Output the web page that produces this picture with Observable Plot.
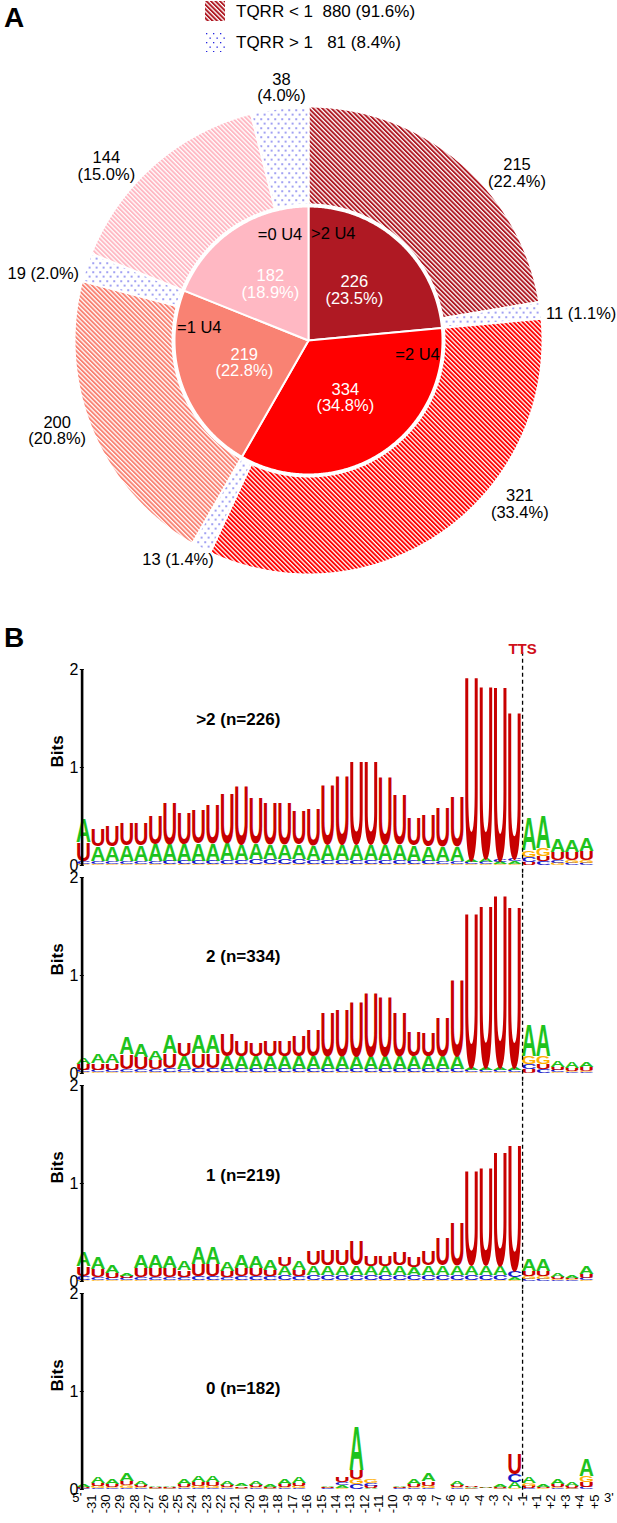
<!DOCTYPE html>
<html>
<head>
<meta charset="utf-8">
<script src="https://cdn.jsdelivr.net/npm/d3@7"></script>
<script src="https://cdn.jsdelivr.net/npm/@observablehq/plot@0.6"></script>
<style>
  html, body { margin: 0; padding: 0; background: #fff; }
  #root { position: relative; width: 617px; height: 1523px; overflow: hidden;
          font-family: "Liberation Sans", Arial, Helvetica, sans-serif; color: #000; }
  .abs { position: absolute; }
  .tag { font-weight: bold; font-size: 28px; line-height: 28px; }
  .leg { font-size: 17px; line-height: 20px; white-space: pre; }
</style>
</head>
<body>
<div id="root"></div>
<script>
// ================= DATA : panel A =================
const innerGroups = [">2 U4", "=2 U4", "=1 U4", "=0 U4"];
const innerCounts = [226, 334, 219, 182];
const tqrrLow  = [215, 321, 200, 144];   // TQRR < 1 within each group
const tqrrHigh = [11, 13, 19, 38];       // TQRR > 1 within each group
const legendLabels = ["TQRR < 1", "TQRR > 1"];

// ================= DATA : panel B =================
const positions = ["-31","-30","-29","-28","-27","-26","-25","-24","-23","-22","-21","-20","-19","-18","-17","-16",
                   "-15","-14","-13","-12","-11","-10","-9","-8","-7","-6","-5","-4","-3","-2","-1",
                   "+1","+2","+3","+4","+5"];
const endLabels = ["5'", "3'"];
const panelTitles = [">2 (n=226)", "2 (n=334)", "1 (n=219)", "0 (n=182)"];
const tssLabel = "TTS";
const tssPosition = "-1";
const bitTicks = [0, 1, 2];

// bits per nucleotide, panel ">2"
const A1 = [0.24,0.15,0.15,0.16,0.16,0.17,0.17,0.17,0.18,0.18,0.17,0.16,0.16,0.15,0.15,0.15,0.15,0.16,0.16,0.16,0.16,0.16,0.16,0.16,0.15,0.15,0.15,0.03,0.04,0.02,0.03,0.34,0.34,0.14,0.12,0.13];
const C1 = [0.03,0.03,0.03,0.03,0.03,0.03,0.035,0.035,0.035,0.035,0.04,0.045,0.05,0.05,0.05,0.05,0.045,0.04,0.04,0.04,0.04,0.04,0.04,0.035,0.035,0.03,0.03,0.02,0.02,0.02,0.03,0.05,0.04,0.03,0.02,0.02];
const G1 = [0.01,0.01,0.01,0.01,0.01,0.01,0.01,0.01,0.01,0.01,0.01,0.01,0.01,0.01,0.01,0.01,0.01,0.01,0.01,0.01,0.01,0.01,0.01,0.01,0.01,0.01,0.01,0.01,0.01,0.01,0.01,0.07,0.08,0.02,0.03,0.03];
const U1 = [0.19,0.18,0.22,0.23,0.23,0.30,0.43,0.33,0.35,0.40,0.52,0.61,0.47,0.43,0.43,0.35,0.38,0.62,0.72,0.87,0.87,0.71,0.52,0.28,0.32,0.40,0.52,1.92,1.80,1.82,1.53,0.03,0.05,0.08,0.08,0.09];

// panel "2"
const A2 = [0.07,0.09,0.09,0.17,0.14,0.10,0.19,0.13,0.19,0.19,0.13,0.13,0.13,0.13,0.13,0.13,0.13,0.13,0.13,0.13,0.13,0.13,0.13,0.13,0.13,0.13,0.13,0.03,0.03,0.03,0.03,0.33,0.33,0.07,0.06,0.05];
const C2 = [0.02,0.02,0.02,0.03,0.03,0.03,0.04,0.03,0.04,0.04,0.035,0.035,0.035,0.035,0.035,0.035,0.035,0.035,0.035,0.035,0.035,0.035,0.035,0.035,0.035,0.035,0.035,0.02,0.02,0.02,0.02,0.05,0.04,0.02,0.01,0.01];
const G2 = [0.01,0.01,0.01,0.01,0.01,0.01,0.01,0.01,0.01,0.01,0.01,0.01,0.01,0.01,0.01,0.01,0.01,0.01,0.01,0.01,0.01,0.01,0.01,0.01,0.01,0.01,0.01,0.01,0.01,0.01,0.01,0.08,0.08,0.01,0.01,0.01];
const U2 = [0.06,0.07,0.07,0.15,0.12,0.09,0.15,0.14,0.15,0.15,0.225,0.155,0.135,0.155,0.165,0.215,0.265,0.465,0.485,0.575,0.665,0.625,0.455,0.255,0.245,0.405,0.805,1.61,1.70,1.81,1.68,0.04,0.05,0.03,0.03,0.04];

// panel "1"
const A3 = [0.15,0.12,0.08,0.03,0.13,0.13,0.12,0.10,0.18,0.18,0.09,0.13,0.12,0.11,0.09,0.10,0.10,0.10,0.10,0.10,0.09,0.09,0.10,0.08,0.10,0.10,0.10,0.10,0.10,0.10,0.03,0.12,0.12,0.04,0.03,0.08];
const C3 = [0.04,0.03,0.02,0.02,0.03,0.03,0.03,0.03,0.04,0.04,0.03,0.04,0.04,0.04,0.05,0.04,0.05,0.05,0.05,0.05,0.05,0.05,0.05,0.05,0.05,0.05,0.05,0.05,0.05,0.05,0.07,0.02,0.02,0.01,0.01,0.02];
const G3 = [0.01,0.01,0.01,0.01,0.01,0.01,0.01,0.01,0.01,0.01,0.01,0.01,0.01,0.01,0.01,0.01,0.01,0.01,0.01,0.01,0.01,0.01,0.01,0.01,0.01,0.01,0.01,0.01,0.01,0.01,0.01,0.03,0.03,0.01,0.01,0.01];
const U3 = [0.10,0.08,0.05,0.02,0.09,0.09,0.09,0.07,0.12,0.12,0.06,0.08,0.08,0.06,0.10,0.06,0.15,0.16,0.16,0.26,0.11,0.11,0.14,0.11,0.15,0.28,0.44,0.99,1.01,1.19,1.31,0.05,0.05,0.02,0.01,0.04];

// panel "0"
const A4 = [0.025,0.06,0.05,0.085,0.045,0.015,0.015,0.055,0.07,0.07,0.04,0.03,0.045,0.025,0.05,0.06,0,0.012,0.025,0.46,0.01,0,0.01,0.05,0.08,0.004,0.04,0.012,0.007,0.025,0.06,0.06,0.02,0.05,0.035,0.17];
const C4 = [0.008,0.01,0.01,0.015,0.01,0.005,0.005,0.01,0.015,0.015,0.01,0.005,0.01,0.005,0.01,0.01,0,0.006,0.03,0.05,0.03,0,0.006,0.01,0.015,0.003,0.008,0.005,0.003,0.005,0.08,0.01,0.004,0.01,0.005,0.02];
const G4 = [0.005,0.02,0.015,0.03,0.015,0.01,0.01,0.015,0.02,0.02,0.01,0.01,0.01,0.008,0.015,0.02,0,0.006,0.015,0.05,0.04,0,0.006,0.015,0.02,0.002,0.012,0.008,0.004,0.008,0.01,0.03,0.006,0.015,0.01,0.06];
const U4 = [0.012,0.03,0.025,0.04,0.02,0.01,0.01,0.03,0.035,0.035,0.02,0.015,0.025,0.012,0.025,0.03,0,0.006,0.05,0.09,0.02,0,0.008,0.025,0.045,0.001,0.02,0.015,0.006,0.012,0.22,0.02,0.01,0.025,0.02,0.05];

// ================= STYLE / LAYOUT =================
const FONT = '"Liberation Sans", Arial, Helvetica, sans-serif';
const ns = "http://www.w3.org/2000/svg";
const innerColors = ["#AF1923", "#FF0000", "#F98273", "#FFB8C3"];
const dotColor = "#2222e0";
const letterColors = {A: "#1ec31e", C: "#1616c8", G: "#ffb000", U: "#c80000"};
const R_IN = 134, R_OUT = 234, R_GAP = 2;
// angular nudge (degrees) of each outer label from its slice's middle, as placed in the figure
const outerLabelNudge = [11, 1, -17, -4, 3, -2, -8, 1];

const root = document.getElementById("root");
function tag(txt, top) {
  const d = document.createElement("div");
  d.className = "abs tag"; d.style.left = "4px"; d.style.top = top + "px"; d.textContent = txt;
  root.appendChild(d);
}

// ================= PANEL A : nested pie =================
const total = d3.sum(innerCounts);
const deg = 360 / total;
const pct = c => d3.format(".1f")(c / total * 100);

let acc = 0;
const innerSlices = innerGroups.map((g, k) => {
  const a0 = acc * deg; acc += innerCounts[k];
  return {k, group: g, count: innerCounts[k], a0, a1: acc * deg, fill: innerColors[k]};
});
acc = 0;
const outerSlices = [];
innerGroups.forEach((g, k) => {
  [[tqrrLow[k], "url(#hatch" + k + ")"], [tqrrHigh[k], "url(#dots)"]].forEach(([c, fill]) => {
    const a0 = acc * deg; acc += c;
    outerSlices.push({k, group: g, count: c, a0, a1: acc * deg, fill});
  });
});

const rad = a => a * Math.PI / 180;
function slicePoints(s, id, r0, r1) {
  const pts = [];
  const n = Math.max(2, Math.ceil((s.a1 - s.a0) / 0.5));
  for (let j = 0; j <= n; j++) {
    const a = rad(s.a0 + (s.a1 - s.a0) * j / n);
    pts.push({id, fill: s.fill, x: r1 * Math.sin(a), y: r1 * Math.cos(a)});
  }
  if (r0 === 0) pts.push({id, fill: s.fill, x: 0, y: 0});
  else for (let j = n; j >= 0; j--) {
    const a = rad(s.a0 + (s.a1 - s.a0) * j / n);
    pts.push({id, fill: s.fill, x: r0 * Math.sin(a), y: r0 * Math.cos(a)});
  }
  return pts;
}
const innerPts = innerSlices.flatMap((s, j) => slicePoints(s, "in" + j, 0, R_IN));
const outerPts = outerSlices.flatMap((s, j) => slicePoints(s, "out" + j, R_IN + R_GAP, R_OUT));
const polar = (a, r) => ({x: r * Math.sin(rad(a)), y: r * Math.cos(rad(a))});

const innerValueLabels = innerSlices.map(s => ({...polar((s.a0 + s.a1) / 2, 68), text: `${s.count}\n(${pct(s.count)}%)`}));
const innerGroupLabels = innerSlices.map(s => {
  const mid = (s.a0 + s.a1) / 2;
  return {...polar(mid < 180 ? s.a0 + 13 : s.a1 - 15, 110), text: s.group};
});
const outerLabels = outerSlices.map((s, j) => {
  const a = (s.a0 + s.a1) / 2 + outerLabelNudge[j];
  const twoLine = s.count / total >= 0.03;
  const sn = Math.sin(rad(a)), cs = Math.cos(rad(a));
  if (twoLine) {
    const r = R_OUT + Math.abs(cs) * 17 + Math.abs(sn) * 29;
    return {...polar(a, r), anchor: "middle", text: `${s.count}\n(${pct(s.count)}%)`};
  }
  return {...polar(a, R_OUT + 5), anchor: sn > 0 ? "start" : "end", text: `${s.count} (${pct(s.count)}%)`};
});

function patternDefs() {
  const defs = document.createElementNS(ns, "defs");
  const mk = (tagName, attrs) => { const e = document.createElementNS(ns, tagName); for (const k in attrs) e.setAttribute(k, attrs[k]); return e; };
  innerColors.forEach((c, k) => {
    const p = mk("pattern", {id: "hatch" + k, patternUnits: "userSpaceOnUse", width: 3.2, height: 3.2, patternTransform: "rotate(-45)"});
    p.appendChild(mk("rect", {width: 3.2, height: 3.2, fill: "white"}));
    p.appendChild(mk("rect", {width: 1.9, height: 3.2, fill: c}));
    defs.appendChild(p);
  });
  const d = mk("pattern", {id: "dots", patternUnits: "userSpaceOnUse", width: 7, height: 9});
  d.appendChild(mk("rect", {width: 7, height: 9, fill: "white"}));
  d.appendChild(mk("rect", {x: 1, y: 1, width: 1.3, height: 1.3, fill: dotColor}));
  d.appendChild(mk("rect", {x: 4.5, y: 5.5, width: 1.3, height: 1.3, fill: dotColor}));
  defs.appendChild(d);
  return defs;
}

const pieText = {fontSize: 16.5, lineHeight: 1.0};
const pie = Plot.plot({
  width: 617, height: 600, margin: 0,
  x: {domain: [-308, 309], axis: null},
  y: {domain: [-260, 340], axis: null},
  color: {type: "identity"},
  style: {fontFamily: FONT, background: "transparent", overflow: "visible"},
  marks: [
    patternDefs,
    Plot.line(innerPts, {x: "x", y: "y", z: "id", fill: "fill", stroke: "white", strokeWidth: 2, strokeLinejoin: "round", curve: "linear-closed"}),
    Plot.line(outerPts, {x: "x", y: "y", z: "id", fill: "fill", stroke: "white", strokeWidth: 2, strokeLinejoin: "round", curve: "linear-closed"}),
    Plot.text(innerValueLabels, {x: "x", y: "y", text: "text", fill: "white", ...pieText}),
    Plot.text(innerGroupLabels, {x: "x", y: "y", text: "text", fill: "black", ...pieText}),
    ...["start", "middle", "end"].map(an =>
      Plot.text(outerLabels.filter(d => d.anchor === an), {x: "x", y: "y", text: "text", fill: "black", textAnchor: an, ...pieText}))
  ]
});
pie.style.position = "absolute"; pie.style.left = "0px"; pie.style.top = "0px";
root.appendChild(pie);

// legend
const totalLow = d3.sum(tqrrLow), totalHigh = d3.sum(tqrrHigh);
[
  {fill: "url(#hatch0)", text: `${legendLabels[0]}  ${totalLow} (${pct(totalLow)}%)`, top: 1},
  {fill: "url(#dots)", text: `${legendLabels[1]}   ${totalHigh} (${pct(totalHigh)}%)`, top: 32}
].forEach(r => {
  const sw = document.createElementNS(ns, "svg");
  sw.setAttribute("width", 20); sw.setAttribute("height", 20);
  sw.style.position = "absolute"; sw.style.left = "205px"; sw.style.top = r.top + "px";
  const rect = document.createElementNS(ns, "rect");
  rect.setAttribute("width", 20); rect.setAttribute("height", 20); rect.setAttribute("fill", r.fill);
  sw.appendChild(rect);
  root.appendChild(sw);
  const t = document.createElement("div");
  t.className = "abs leg"; t.style.left = "236px"; t.style.top = (r.top + 1) + "px"; t.textContent = r.text;
  root.appendChild(t);
});
tag("A", 4);

// ================= PANEL B : sequence logos =================
const letterSets = [
  {A: A1, C: C1, G: G1, U: U1},
  {A: A2, C: C2, G: G2, U: U2},
  {A: A3, C: C3, G: G3, U: U3},
  {A: A4, C: C4, G: G4, U: U4}
];
const letterRows = [];
letterSets.forEach((set, p) => {
  positions.forEach((pos, i) => {
    const items = ["A", "C", "G", "U"].map(L => ({L, h: set[L][i]})).sort((a, b) => a.h - b.h);
    let base = 0;
    for (const it of items) {
      letterRows.push({panel: panelTitles[p], i, letter: it.L, y1: base, y2: base + it.h});
      base += it.h;
    }
  });
});

function drawLetters(index, scales, values) {
  const g = document.createElementNS(ns, "g");
  const {x1: X1, x2: X2, y1: Y1, y2: Y2, fill: F} = values;
  for (const i of index) {
    const left = Math.min(X1[i], X2[i]), w = Math.abs(X2[i] - X1[i]);
    const bottom = Math.max(Y1[i], Y2[i]), h = Math.abs(Y1[i] - Y2[i]);
    if (!(h > 0.05)) continue;
    const t = document.createElementNS(ns, "text");
    t.textContent = letterRows[i].letter;
    t.setAttribute("x", 0); t.setAttribute("y", 0);
    t.setAttribute("font-size", 100);
    t.setAttribute("font-weight", "bold");
    t.setAttribute("font-family", "Liberation Sans, Arial, sans-serif");
    t.setAttribute("textLength", 72);
    t.setAttribute("lengthAdjust", "spacingAndGlyphs");
    t.setAttribute("fill", F ? F[i] : letterColors[letterRows[i].letter]);
    t.setAttribute("transform", `translate(${left - w * 0.02},${bottom}) scale(${w * 1.04 / 72},${h / 71.6})`);
    g.appendChild(t);
  }
  return g;
}

const tssIndex = positions.indexOf(tssPosition);
const dashRows = panelTitles.map((t, k) => ({panel: t, i: tssIndex, y1: -0.08, y2: k === 0 ? 2.17 : 2.08}));
const titleLevel = [1.49, 1.19, 1.08, 1.03];
const titleRows = panelTitles.map((t, k) => ({panel: t, title: t, ty: titleLevel[k]}));
const bottomPanel = panelTitles[panelTitles.length - 1];
const xLabelRows = positions.map((p, i) => ({panel: bottomPanel, i, label: p}));
const endRows = [{panel: bottomPanel, x: -1, label: endLabels[0]}, {panel: bottomPanel, x: positions.length, label: endLabels[1]}];

const logo = Plot.plot({
  width: 617, height: 903,
  marginTop: 49, marginBottom: 34, marginLeft: 83.8, marginRight: 15.9,
  x: {domain: [-0.5, positions.length - 0.5], axis: null},
  y: {domain: [0, 2], axis: null},
  fy: {domain: panelTitles, axis: null, paddingInner: 12 / 208, paddingOuter: 0},
  color: {domain: ["A", "C", "G", "U"], range: ["A", "C", "G", "U"].map(L => letterColors[L])},
  style: {fontFamily: FONT, fontSize: "16px", background: "transparent", overflow: "visible", color: "#000"},
  marks: [
    Plot.rect(letterRows, {x1: d => d.i - 0.5, x2: d => d.i + 0.5, y1: "y1", y2: "y2", fy: "panel", fill: "letter", render: drawLetters}),
    Plot.ruleX(dashRows, {x: "i", y1: "y1", y2: "y2", fy: "panel", stroke: "#000", strokeWidth: 1.3, strokeDasharray: "4,3"}),
    Plot.ruleX([-0.5], {y1: 0, y2: 2, dx: -2.2, stroke: "#000", strokeWidth: 2.6}),
    Plot.axisY({ticks: bitTicks, tickFormat: "d", tickSize: 4, tickPadding: 2, label: null}),
    Plot.text(["Bits"], {frameAnchor: "left", dx: -27, rotate: -90, fontWeight: "bold", fontSize: 17}),
    Plot.text(titleRows, {fy: "panel", frameAnchor: "left", y: "ty", dx: 196, text: "title", textAnchor: "end", fontWeight: "bold", fontSize: 17}),
    Plot.text([{panel: panelTitles[0], i: tssIndex}], {fy: "panel", x: "i", frameAnchor: "top", dy: -26, text: () => tssLabel, fill: "#d0101a", fontWeight: "bold", fontSize: 15}),
    Plot.text(xLabelRows, {fy: "panel", x: "i", frameAnchor: "bottom", rotate: -90, textAnchor: "end", lineAnchor: "middle", dy: 5, text: "label", fontSize: 13}),
    Plot.text(endRows, {fy: "panel", x: "x", frameAnchor: "bottom", dy: 12, text: "label", fontSize: 13})
  ]
});
logo.style.position = "absolute"; logo.style.left = "0px"; logo.style.top = "620px";
root.appendChild(logo);
tag("B", 624);
</script>
</body>
</html>
